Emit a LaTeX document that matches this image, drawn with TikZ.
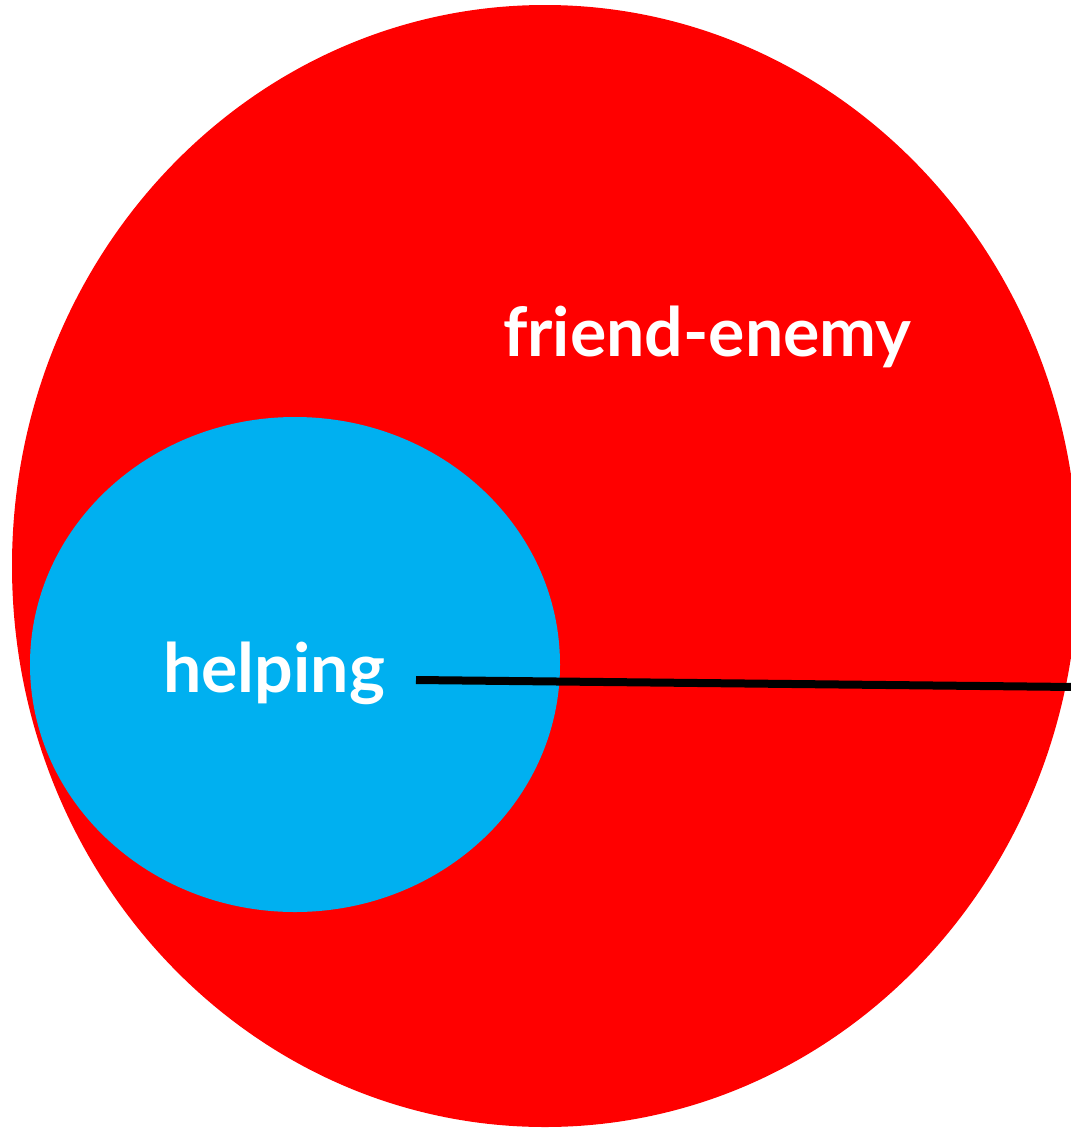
\documentclass[tikz,border=0pt]{standalone}
\usepackage{fontspec}
\setmainfont{Lato}
\usetikzlibrary{shapes.geometric,positioning}
\definecolor{setred}{HTML}{FF0000}
\definecolor{setblue}{HTML}{00B0F0}

\begin{document}
\begin{tikzpicture}[x=1pt,y=-1pt,
  blob/.style={ellipse,inner sep=0pt,draw=none},
  setlabel/.style={text=white,font=\bfseries\fontsize{68}{68}\selectfont,inner sep=0pt,anchor=base west}
]
  \useasboundingbox (0,0) rectangle (1071,1128);
  \node[blob,fill=setred,minimum width=1066pt,minimum height=1122pt] (friend) at (545,566) {};
  \node[blob,fill=setblue,minimum width=530pt,minimum height=495pt] (help) at (295,664.5) {};
  \node[setlabel] (friendlabel) at (503,356) {friend-enemy};
  \node[setlabel] (helplabel) at (163,692) {helping};
  \coordinate (linestart) at (416,680);
  \coordinate (lineend) at (1075,687);
  \draw[line width=8pt] (linestart) -- (lineend);
\end{tikzpicture}
\end{document}
